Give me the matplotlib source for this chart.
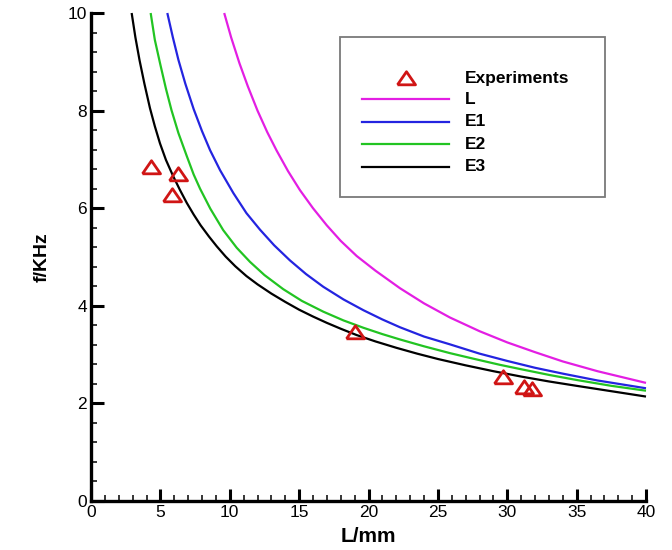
import matplotlib
matplotlib.use("Agg")
import matplotlib.pyplot as plt
from matplotlib.ticker import MultipleLocator
from matplotlib.lines import Line2D
from matplotlib.patches import Rectangle

plt.rcParams['font.family'] = ['Liberation Sans', 'DejaVu Sans']

# ---- data ----
L_L = [9.6, 10.1, 10.7, 11.3, 12.0, 12.7, 13.38, 14.2, 15.06, 16.0, 16.99, 18.0, 19.15,
       20.5, 22.27, 24.0, 25.87, 28.0, 30.0, 32.0, 34.0, 36.5, 40]
f_L = [10, 9.5, 8.97, 8.5, 8.0, 7.56, 7.18, 6.76, 6.37, 6.0, 5.65, 5.33, 5.02,
       4.72, 4.36, 4.05, 3.76, 3.48, 3.25, 3.05, 2.86, 2.66, 2.42]

L_E1 = [5.5, 5.9, 6.3, 6.8, 7.4, 8.0, 8.58, 9.3, 10.26, 11.2, 12.18, 13.2, 14.34, 15.5,
        16.74, 18.2, 19.63, 21.0, 22.27, 24.0, 25.87, 28.0, 30.0, 32.0, 34.0, 36.5, 40]
f_E1 = [10, 9.5, 9.04, 8.55, 8.03, 7.58, 7.19, 6.78, 6.31, 5.9, 5.56, 5.24, 4.93, 4.65,
        4.39, 4.13, 3.91, 3.72, 3.56, 3.37, 3.21, 3.02, 2.87, 2.73, 2.61, 2.47, 2.31]

L_E2 = [4.3, 4.6, 5.0, 5.4, 5.8, 6.3, 6.9, 7.4, 7.86, 8.6, 9.53, 10.5, 11.46, 12.5, 13.86,
        15.2, 16.74, 18.2, 19.63, 21.0, 22.27, 24.0, 25.87, 27.5, 29.48, 31.0, 33.08, 35.0, 37.5, 40]
f_E2 = [10, 9.45, 8.94, 8.45, 8.01, 7.54, 7.07, 6.69, 6.4, 5.99, 5.55, 5.19, 4.9, 4.63, 4.34,
        4.1, 3.88, 3.7, 3.55, 3.42, 3.31, 3.17, 3.03, 2.92, 2.79, 2.7, 2.58, 2.48, 2.36, 2.26]

L_E3 = [2.93, 3.2, 3.5, 3.85, 4.25, 4.6, 4.97, 5.4, 5.9, 6.4, 6.9, 7.4, 7.9, 8.5, 9.06, 9.7,
        10.4, 11.2, 12.0, 13.0, 14.0, 15.0, 16.0, 17.0, 18.0, 19.15, 20.5, 22.0, 23.5, 25.0,
        27.0, 29.0, 31.0, 33.0, 35.0, 37.5, 40]
f_E3 = [10, 9.5, 9.03, 8.55, 8.05, 7.68, 7.33, 6.99, 6.67, 6.38, 6.11, 5.87, 5.65, 5.42, 5.22, 5.01,
        4.81, 4.61, 4.44, 4.25, 4.08, 3.92, 3.78, 3.65, 3.53, 3.4, 3.27, 3.14, 3.02, 2.91,
        2.78, 2.66, 2.55, 2.45, 2.36, 2.25, 2.14]

L_exp = [4.32, 6.29, 5.86, 19.03, 29.7, 31.2, 31.8]
f_exp = [6.85, 6.71, 6.27, 3.46, 2.55, 2.33, 2.29]

series = [
    ("L", L_L, f_L, "#e31ee3"),
    ("E1", L_E1, f_E1, "#2424e0"),
    ("E2", L_E2, f_E2, "#22c422"),
    ("E3", L_E3, f_E3, "#000000"),
]

tri = [(-1, -0.7), (1, -0.7), (0, 0.75), (-1, -0.7)]
red = "#d01515"

fig = plt.figure(figsize=(6.72, 5.5), dpi=100)
ax = fig.add_axes([91/672, 1-501/550, 555/672, 488/550])

for name, x, y, c in series:
    ax.plot(x, y, color=c, lw=1.6, solid_capstyle='butt', solid_joinstyle='round', clip_on=False)
ax.plot(L_exp, f_exp, linestyle='none', marker=tri, markersize=13,
        markerfacecolor='none', markeredgecolor=red, markeredgewidth=2.0, clip_on=False)

ax.set_xlim(0, 40)
ax.set_ylim(0, 10)
ax.xaxis.set_major_locator(MultipleLocator(5))
ax.xaxis.set_minor_locator(MultipleLocator(1))
ax.yaxis.set_major_locator(MultipleLocator(2))
ax.yaxis.set_minor_locator(MultipleLocator(0.4))
for s in ['top', 'right']:
    ax.spines[s].set_visible(False)
for s in ['left', 'bottom']:
    ax.spines[s].set_linewidth(2.4)
ax.tick_params(which='major', direction='in', length=9, width=2.2, labelsize=12.5, pad=3)
ax.tick_params(which='minor', direction='in', length=4.5, width=1.1)
ax.set_xlabel("L/mm", fontsize=15, fontweight='bold', labelpad=5)
ax.set_ylabel("f/KHz", fontsize=14, fontweight='bold', labelpad=12)

# legend box (axes fraction coordinates)
def ax_from_px(px, py):
    return ((px - 91) / 555, (501 - py) / 488)

x0, y0 = ax_from_px(339.5, 196.7)
x1, y1 = ax_from_px(604.5, 37.3)
ax.add_patch(Rectangle((x0, y0), x1 - x0, y1 - y0, transform=ax.transAxes,
                       facecolor='white', edgecolor='#7a7a7a', lw=1.3, zorder=5))
tx, ty = ax_from_px(406, 78)
ax.plot([tx], [ty], transform=ax.transAxes, marker=tri, markersize=13,
        markerfacecolor='none', markeredgecolor=red, markeredgewidth=2.0, zorder=6, linestyle='none')
lab_x, _ = ax_from_px(465, 0)
ax.text(lab_x, ty, "Experiments", transform=ax.transAxes, fontsize=12.5, fontweight='bold',
        va='center', ha='left', zorder=6)
rows_py = [99.3, 121.7, 144.3, 166.7]
for (name, x, y, c), py in zip(series, rows_py):
    lx0, ly = ax_from_px(361.7, py)
    lx1, _ = ax_from_px(449.3, py)
    ax.add_line(Line2D([lx0, lx1], [ly, ly], transform=ax.transAxes, color=c, lw=1.6, zorder=6))
    ax.text(lab_x, ly, name, transform=ax.transAxes, fontsize=12.5, fontweight='bold',
            va='center', ha='left', zorder=6)

fig.savefig("out.png", dpi=100)
